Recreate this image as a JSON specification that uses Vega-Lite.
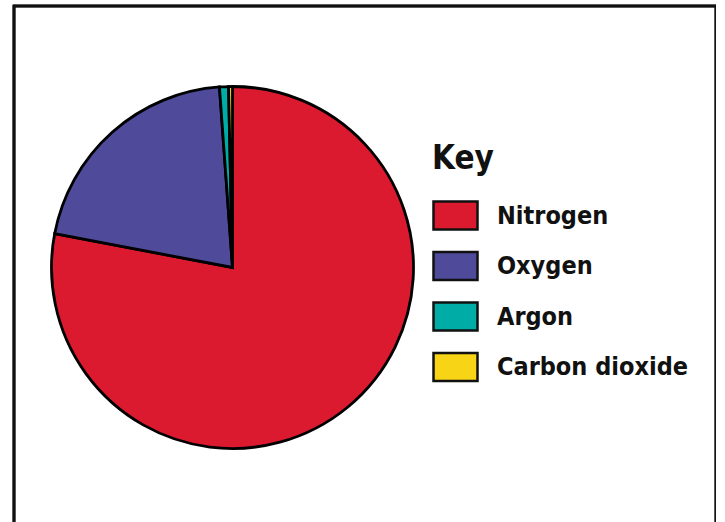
{
  "$schema": "https://vega.github.io/schema/vega-lite/v6.json",
  "autosize": "none",
  "padding": {"left": 14, "top": 6, "right": 0, "bottom": 0},
  "width": 702,
  "height": 540,
  "background": "white",
  "config": {
    "view": {"stroke": "#111111", "strokeWidth": 2.5},
    "font": "DejaVu Sans Condensed"
  },
  "data": {
    "values": [
      {"gas": "Nitrogen", "percent": 78.0, "rank": 1},
      {"gas": "Oxygen", "percent": 20.85, "rank": 2},
      {"gas": "Argon", "percent": 0.8, "rank": 3},
      {"gas": "Carbon dioxide", "percent": 0.35, "rank": 4}
    ]
  },
  "layer": [
    {
      "mark": {"type": "rect", "fill": null, "fillOpacity": 0, "stroke": "#111111", "strokeWidth": 2.5},
      "encoding": {}
    },
    {
      "mark": {"type": "arc", "outerRadius": 181, "x": 218.5, "y": 261.5, "stroke": "#000000", "strokeWidth": 2.8},
      "encoding": {
        "theta": {"field": "percent", "type": "quantitative", "stack": true},
        "order": {"field": "rank", "type": "quantitative"},
        "color": {
          "field": "gas",
          "type": "nominal",
          "scale": {
            "domain": ["Nitrogen", "Oxygen", "Argon", "Carbon dioxide"],
            "range": ["#DC1A2F", "#4F4A9A", "#00ADA6", "#F7D516"]
          },
          "legend": {
            "title": "Key",
            "orient": "none",
            "legendX": 418,
            "legendY": 137,
            "titleFont": "DejaVu Sans Condensed",
            "titleFontSize": 33,
            "titleFontWeight": "bold",
            "titleColor": "#111111",
            "titlePadding": 16,
            "labelFont": "DejaVu Sans Condensed",
            "labelFontSize": 25,
            "labelFontWeight": "bold",
            "labelColor": "#111111",
            "labelOffset": 18,
            "labelLimit": 400,
            "symbolType": "M-1,-0.64L1,-0.64L1,0.64L-1,0.64Z",
            "symbolSize": 1936,
            "symbolStrokeColor": "#111111",
            "symbolStrokeWidth": 2.5,
            "symbolOpacity": 1,
            "rowPadding": 7.5
          }
        }
      }
    }
  ]
}
